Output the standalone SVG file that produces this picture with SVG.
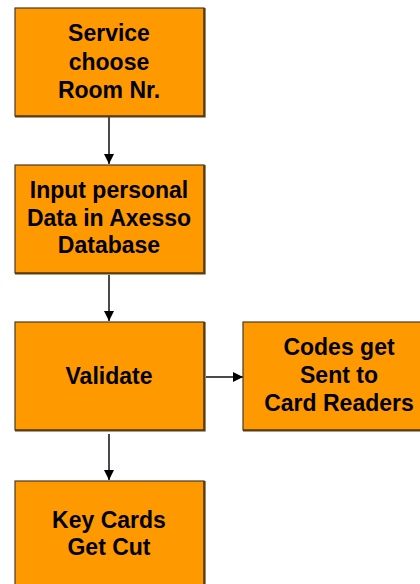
<svg xmlns="http://www.w3.org/2000/svg" width="420" height="584" viewBox="0 0 420 584">
<style>
.box{fill:#FF9900;stroke:#4a3a2a;stroke-width:1.2}
.sh{fill:none;stroke:#5a3c10;stroke-width:2.2}
.t{font-family:"Liberation Sans",Arial,sans-serif;font-weight:bold;font-size:23px;fill:#000;text-anchor:middle}
.c{stroke:#4a4a4a;stroke-width:2;fill:none}
</style>
<defs>
<marker id="ah" viewBox="0 0 10 10" refX="10" refY="5" markerWidth="5.5" markerHeight="5" orient="auto" markerUnits="strokeWidth">
<path d="M0,0 L10,5 L0,10 z" fill="#000"/>
</marker>
</defs>
<rect width="420" height="584" fill="#fff"/>
<g id="connectors">
<line class="c" x1="109" y1="117" x2="109" y2="164" marker-end="url(#ah)"/>
<line class="c" x1="109" y1="275" x2="109" y2="321" marker-end="url(#ah)"/>
<line class="c" x1="206" y1="377" x2="243" y2="377" marker-end="url(#ah)"/>
<line class="c" x1="109" y1="434" x2="109" y2="480" marker-end="url(#ah)"/>
</g>
<g id="n1">
<rect class="box" x="15" y="8" width="189" height="108"/>
<polyline class="sh" points="15,116.5 204.5,116.5 204.5,8"/>
<text class="t" x="109" y="41">Service</text>
<text class="t" x="109" y="70">choose</text>
<text class="t" x="109" y="98">Room Nr.</text>
</g>
<g id="n2">
<rect class="box" x="15" y="165" width="189" height="108"/>
<polyline class="sh" points="15,273.5 204.5,273.5 204.5,165"/>
<text class="t" x="109" y="198">Input personal</text>
<text class="t" x="109" y="226">Data in Axesso</text>
<text class="t" x="109" y="253">Database</text>
</g>
<g id="n3">
<rect class="box" x="15" y="322" width="189" height="108"/>
<polyline class="sh" points="15,430.5 204.5,430.5 204.5,322"/>
<text class="t" x="109" y="384">Validate</text>
</g>
<g id="n4">
<rect class="box" x="243" y="322" width="195" height="108"/>
<polyline class="sh" points="243,430.5 438,430.5"/>
<text class="t" x="339" y="355">Codes get</text>
<text class="t" x="339" y="383">Sent to</text>
<text class="t" x="339" y="411">Card Readers</text>
</g>
<g id="n5">
<rect class="box" x="15" y="481" width="189" height="110"/>
<polyline class="sh" points="204.5,481 204.5,590"/>
<text class="t" x="109" y="528">Key Cards</text>
<text class="t" x="109" y="555">Get Cut</text>
</g>
</svg>
